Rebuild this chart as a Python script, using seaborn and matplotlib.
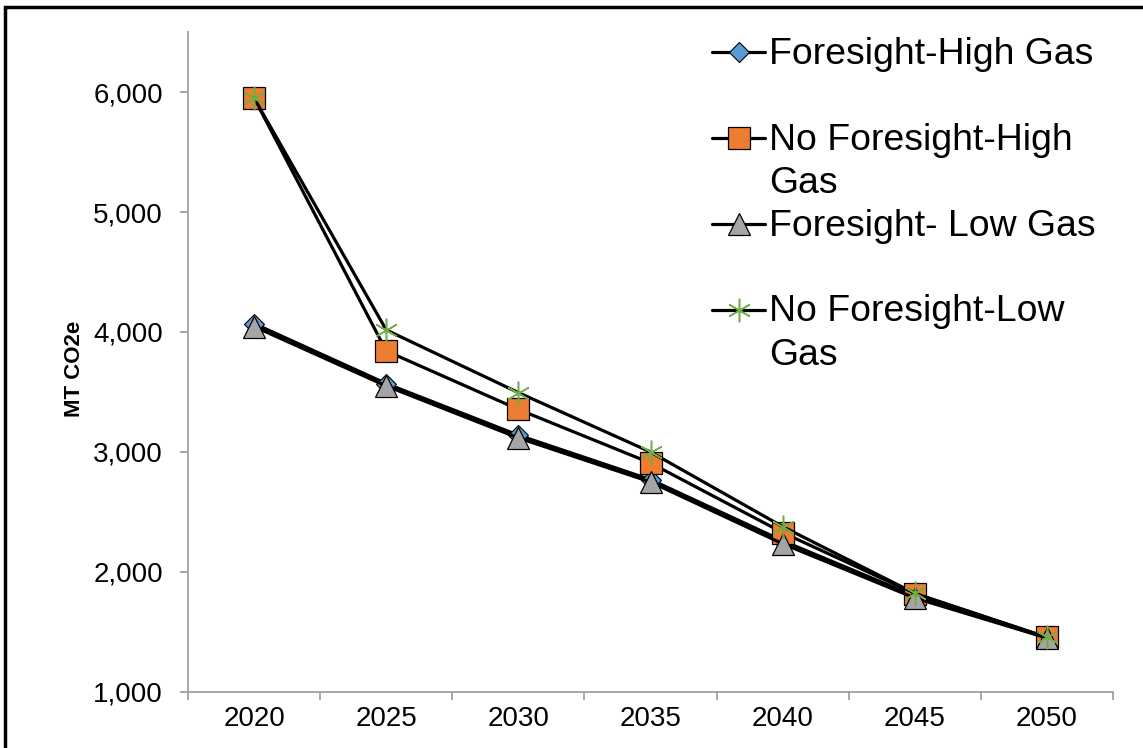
import numpy as np
import pandas as pd
import matplotlib
matplotlib.use('Agg')
import matplotlib.pyplot as plt
import seaborn as sns
from matplotlib.patches import Rectangle
from matplotlib.ticker import FuncFormatter

# data (MT CO2e)
years = ['2020', '2025', '2030', '2035', '2040', '2045', '2050']
foresight_high = [4070, 3570, 3140, 2770, 2260, 1800, 1450]
no_foresight_high = [5950, 3842, 3355, 2908, 2328, 1820, 1455]
foresight_low = [4045, 3550, 3117, 2750, 2235, 1783, 1450]
no_foresight_low = [5950, 4017, 3495, 3000, 2378, 1822, 1455]

series_names = ['Foresight-High Gas', 'No Foresight-High Gas',
                'Foresight- Low Gas', 'No Foresight-Low Gas']
legend_labels = ['Foresight-High Gas\n ', 'No Foresight-High\nGas',
                 'Foresight- Low Gas\n ', 'No Foresight-Low\nGas']

sns.set_theme(style='white')
plt.rcParams['font.family'] = ['Liberation Sans', 'DejaVu Sans']
plt.rcParams['text.color'] = 'black'
plt.rcParams['axes.labelcolor'] = 'black'

fig = plt.figure(figsize=(11.43, 7.48), dpi=100)
ax = fig.add_axes([0.1645, 0.0749, 0.8093, 0.8823])

# marker styles per series (Excel look)
styles = [
    dict(marker='D', ms=10, markerfacecolor='#5B9BD5', markeredgecolor='black', markeredgewidth=0.8),
    dict(marker='s', ms=15.5, markerfacecolor='#ED7D31', markeredgecolor='black', markeredgewidth=0.9),
    dict(marker='^', ms=16, markerfacecolor='#A5A5A5', markeredgecolor='black', markeredgewidth=0.9),
    dict(marker=(6, 2, 0), ms=17, markerfacecolor='#70AD47', markeredgecolor='#70AD47', markeredgewidth=1.1),
]
all_values = [foresight_high, no_foresight_high, foresight_low, no_foresight_low]

for name, vals, st in zip(series_names, all_values, styles):
    df = pd.DataFrame({'year': years, 'value': vals})
    sns.lineplot(data=df, x='year', y='value', ax=ax, color='black', lw=2.3,
                 label=name, **st)

ax.set_xlim(-0.5, 6.5)
ax.set_ylim(1000, 6500)
ax.set_yticks(range(1000, 7000, 1000))
ax.yaxis.set_major_formatter(FuncFormatter(lambda v, p: f'{int(v):,}'))
ax.set_xticks(np.arange(-0.5, 7, 1), minor=True)

for s in ['top', 'right']:
    ax.spines[s].set_visible(False)
for s in ['left', 'bottom']:
    ax.spines[s].set_color('#A0A0A0')
    ax.spines[s].set_linewidth(1.3)

ax.tick_params(axis='x', which='major', length=0, pad=10, labelsize=20, labelcolor='black')
ax.tick_params(axis='x', which='minor', bottom=True, length=6, width=1.3, color='#A0A0A0')
ax.tick_params(axis='y', which='major', left=True, length=6, width=1.3, color='#A0A0A0',
               pad=12, labelsize=20, labelcolor='black')

ax.set_xlabel('')
ax.set_ylabel('MT CO2e', fontsize=16, fontweight='bold', color='black')
ax.yaxis.set_label_coords(-0.111, 0.49)

handles, _ = ax.get_legend_handles_labels()
leg = ax.legend(handles, legend_labels, loc='upper left', bbox_to_anchor=(0.5665, 0.993),
                frameon=False, fontsize=26.9, handlelength=1.42, handletextpad=0.11,
                labelspacing=0.21, borderpad=0, borderaxespad=0)
for t in leg.get_texts():
    t.set_linespacing(1.3)
    t.set_color('black')
# keep the key on the first text line
for ln in leg.get_lines():
    ln.set_ydata(np.asarray(ln.get_ydata()) + 17.3)

# outer frame of the figure (cut on the right/bottom)
fig.patches.append(Rectangle((0.0048, -0.1), 1.2, 0.9906 + 0.1, transform=fig.transFigure,
                             fill=False, lw=2.5, ec='black'))

plt.savefig('out.png', dpi=100)
